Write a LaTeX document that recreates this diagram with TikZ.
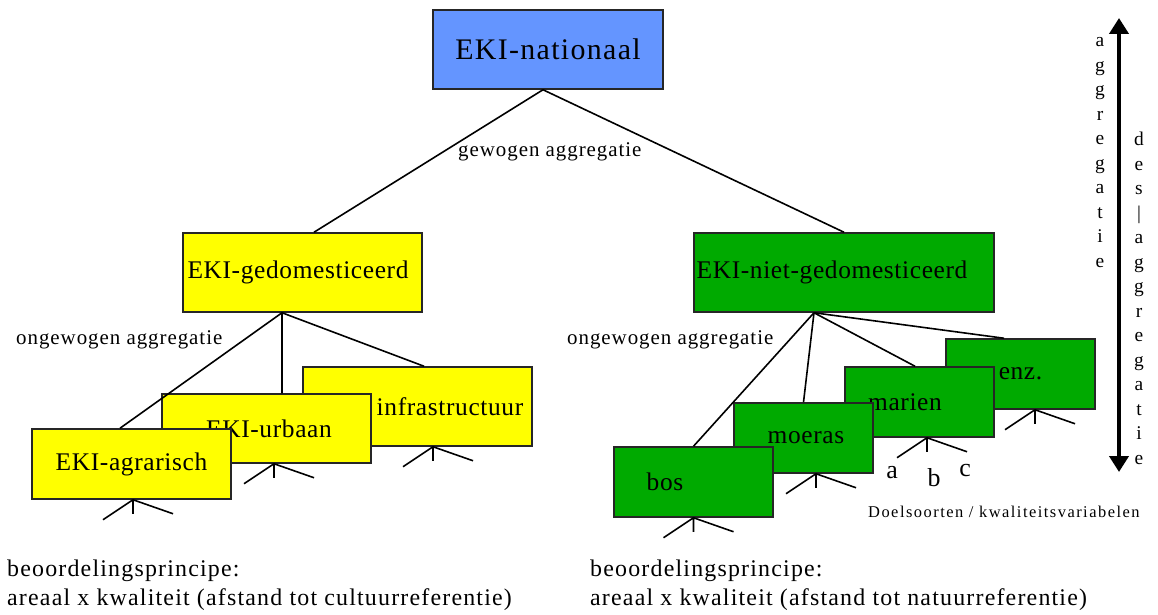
\documentclass[tikz,border=0pt]{standalone}
\usepackage{fontspec}
\setmainfont{Liberation Serif}
\usetikzlibrary{arrows.meta}
\definecolor{blauw}{RGB}{100,149,255}
\definecolor{geel}{RGB}{255,255,0}
\definecolor{groen}{RGB}{0,170,0}
\newcommand{\voet}[2]{\draw[lijn] ([xshift=#2bp]#1.south) -- ++(0,14) ([xshift=#2bp]#1.south) -- ++(-30,20) ([xshift=#2bp]#1.south) -- ++(40,14);}
\tikzset{
  kader/.style 2 args={draw=black!85, line width=1.5bp, minimum width=#1bp, minimum height=#2bp, inner sep=0pt},
  schuif/.style={execute at begin node={\hspace*{#1bp}}},
  lijn/.style={line width=1.6bp},
  naam/.style={font=\fontsize{25.5}{30}\selectfont\addfontfeature{LetterSpace=2.5}},
  tussen/.style={inner sep=0pt, font=\fontsize{21}{25}\selectfont\addfontfeature{LetterSpace=4.6}},
  onder/.style={inner sep=0pt, align=left, font=\fontsize{24}{28.5}\selectfont\addfontfeature{LetterSpace=5}},
  kolom/.style={inner sep=0pt, align=center, font=\fontsize{19.5}{24.6}\selectfont}
}
\begin{document}
\begin{tikzpicture}[x=1bp, y=-1bp]
    \useasboundingbox (0,0) rectangle (1158,615);
    \node[kader={230}{79}, fill=blauw, font=\fontsize{30}{34}\selectfont\addfontfeature{LetterSpace=4.5}] (nat) at (548,49.5) {EKI-nationaal};
    \node[kader={239}{79}, fill=geel, naam, schuif=-9] (gd) at (302.5,272.5) {EKI-gedomesticeerd};
    \node[kader={300}{79}, fill=groen, naam, schuif=-24] (ngd) at (844,272.5) {EKI-niet-gedomesticeerd};
    \node[kader={229}{79}, fill=geel, naam, schuif=65] (inf) at (417.5,406.5) {infrastructuur};
    \node[kader={209}{69}, fill=geel, naam, schuif=5] (urb) at (266.5,428.5) {EKI-urbaan};
    \node[kader={199}{70}, fill=geel, naam] (agr) at (131.5,464) {EKI-agrarisch};
    \node[kader={149}{70}, fill=groen, naam] (enz) at (1020.5,374) {enz.};
    \node[kader={149}{70}, fill=groen, naam, schuif=-29] (mar) at (919.5,402) {marien};
    \node[kader={139}{70}, fill=groen, naam, schuif=5] (moe) at (803.5,438) {moeras};
    \node[kader={159}{70}, fill=groen, naam, schuif=-57] (bos) at (693.5,482) {bos};
    \coordinate (natV) at ([xshift=-5bp]nat.south);
    \coordinate (gdV) at ([xshift=-20.5bp]gd.south);
    \coordinate (ngdV) at ([xshift=-30bp]ngd.south);
    \draw[lijn] (natV) -- ([xshift=11.5bp]gd.north);
    \draw[lijn] (natV) -- (ngd.north);
    \draw[lijn] (gdV) -- ([xshift=-11.5bp]agr.north);
    \draw[lijn] (gdV) -- ([xshift=15.5bp]urb.north);
    \draw[lijn] (gdV) -- ([xshift=6.5bp]inf.north);
    \draw[lijn] (ngdV) -- (bos.north);
    \draw[lijn] (ngdV) -- (moe.north);
    \draw[lijn] (ngdV) -- ([xshift=-4.5bp]mar.north);
    \draw[lijn] (ngdV) -- ([xshift=-16.5bp]enz.north);
    \voet{agr}{1.5}
    \voet{urb}{7.5}
    \voet{inf}{15.5}
    \voet{bos}{0}
    \voet{moe}{12.5}
    \voet{mar}{7.5}
    \voet{enz}{14.5}
    \node[tussen, anchor=base west] (gew) at (458,157) {gewogen aggregatie};
    \node[tussen, anchor=base west] (ongL) at (16,345) {ongewogen aggregatie};
    \node[tussen, anchor=base west] (ongR) at (567,345) {ongewogen aggregatie};
    \node[inner sep=0pt, anchor=base, font=\fontsize{26}{30}\selectfont] (va) at (892,478) {a};
    \node[inner sep=0pt, anchor=base, font=\fontsize{26}{30}\selectfont] (vb) at (934,486) {b};
    \node[inner sep=0pt, anchor=base, font=\fontsize{26}{30}\selectfont] (vc) at (965,476) {c};
    \node[inner sep=0pt, anchor=base west, font=\fontsize{16.5}{20}\selectfont\addfontfeature{LetterSpace=9}] (doel) at (868,517) {Doelsoorten / kwaliteitsvariabelen};
    \node[onder, anchor=base west] (princL) at (7,605) {beoordelingsprincipe:\\areaal x kwaliteit (afstand tot cultuurreferentie)};
    \node[onder, anchor=base west] (princR) at (590,605) {beoordelingsprincipe:\\areaal x kwaliteit (afstand tot natuurreferentie)};
    \coordinate (pijlB) at (1119,18);
    \coordinate (pijlO) at (1119,472);
    \draw[line width=4bp, {Triangle[width=19bp,length=16bp]}-{Triangle[width=19bp,length=16bp]}] (pijlB) -- (pijlO);
    \node[kolom, anchor=base] (aggr) at (1100,267.5) {a\\g\\g\\r\\e\\g\\a\\t\\i\\e};
    \node[kolom, anchor=base] (desaggr) at (1139,464.5) {d\\e\\s\\|\\a\\g\\g\\r\\e\\g\\a\\t\\i\\e};
\end{tikzpicture}
\end{document}
